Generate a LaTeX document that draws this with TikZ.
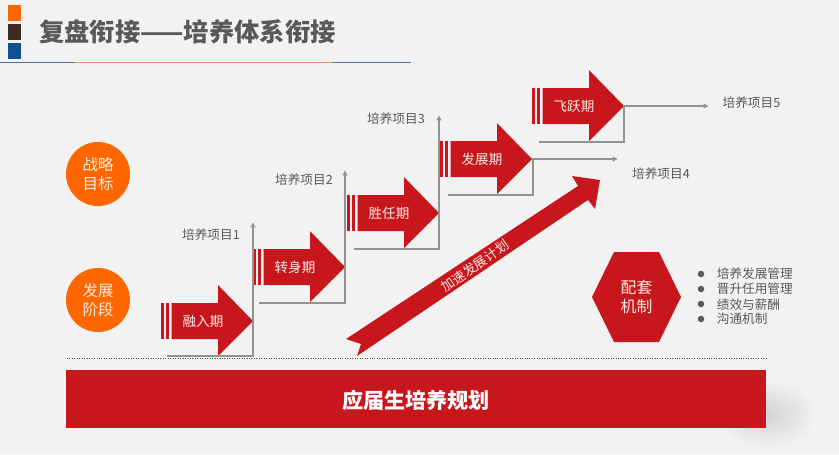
\documentclass[tikz,border=0pt]{standalone}
\usepackage{fontspec}
\setmainfont{Noto Sans CJK SC}
\usetikzlibrary{shapes.geometric,arrows.meta}
\definecolor{stagered}{HTML}{C8161D}
\definecolor{roundorange}{HTML}{FF6600}
\definecolor{greytext}{HTML}{595959}
\definecolor{pagegrey}{HTML}{F2F2F2}
\definecolor{creamtext}{HTML}{FFEDE4}
\definecolor{darkblock}{HTML}{3F2A2A}
\definecolor{blueblock}{HTML}{10528F}
\definecolor{ruleblue}{HTML}{4A6FA5}
\definecolor{ruleorange}{HTML}{F0905A}
\tikzset{
  stagefill/.style={fill=stagered},
  stagetext/.style={text=creamtext, font=\fontsize{7.7pt}{9pt}\selectfont, inner sep=0pt},
  itemtext/.style={text=greytext, font=\fontsize{7.2pt}{9pt}\selectfont, inner sep=0pt},
  roundbox/.style={circle, fill=roundorange, minimum size=1.28cm, inner sep=0pt, text=creamtext, align=center, font=\fontsize{8.8pt}{11.2pt}\selectfont},
  stepline/.style={draw=gray!85, line width=0.6pt, -{Latex[length=3pt,width=3.2pt]}},
  blt/.style={circle, fill=greytext, minimum size=0.13cm, inner sep=0pt},
}
% one stage: name, tip x, tip y, text
\newcommand{\stagearrow}[4]{
  \fill[stagefill] (#2-92,#3-18) rectangle (#2-88.7,#3+18);
  \fill[stagefill] (#2-87.3,#3-18) rectangle (#2-83.7,#3+18);
  \fill[stagefill] (#2-81.3,#3-18) -- (#2-35,#3-18) -- (#2-35,#3-36) -- (#2,#3) -- (#2-35,#3+35) -- (#2-35,#3+18) -- (#2-81.3,#3+18) -- cycle;
  \node[stagetext] (#1) at (#2-50,#3) {#4};
}
\begin{document}
\begin{tikzpicture}[x=0.02cm,y=-0.02cm]
  \useasboundingbox (0,0) rectangle (839,454);
  \fill[pagegrey] (0,0) rectangle (839,454);

  % title
  \fill[roundorange] (8,5) rectangle (21,21);
  \fill[darkblock] (8,23.5) rectangle (21,40);
  \fill[blueblock] (8,43) rectangle (21,59);
  \node[text=greytext, font=\fontsize{14.4pt}{16pt}\bfseries\selectfont, inner sep=0pt, anchor=west] (title) at (39,32) {复盘衔接——培养体系衔接};
  \coordinate (ruleA) at (0,62);
  \coordinate (ruleB) at (74,62);
  \coordinate (ruleC) at (332,62);
  \coordinate (ruleD) at (411,62);
  \draw[ruleblue, line width=0.5pt] (ruleA) -- (ruleB);
  \draw[ruleorange, line width=0.5pt] (ruleB) -- (ruleC);
  \draw[ruleblue, line width=0.5pt] (ruleC) -- (ruleD);

  % left
  \node[roundbox] (goal) at (98,174) {战略\\目标};
  \node[roundbox] (phase) at (98,300) {发展\\阶段};

  % stages
  \stagearrow{rong}{253}{321}{融入期}
  \stagearrow{zhuan}{345}{267}{转身期}
  \stagearrow{sheng}{439}{213}{胜任期}
  \stagearrow{fa}{532}{159}{发展期}
  \stagearrow{fei}{624}{106}{飞跃期}

  % steps
  \coordinate (s1) at (167,356);
  \coordinate (e1) at (253,222);
  \coordinate (s2) at (259,303);
  \coordinate (e2) at (345,170);
  \coordinate (s3) at (354,249);
  \coordinate (e3) at (439,115);
  \coordinate (s4) at (448,195);
  \coordinate (e4) at (618,159);
  \coordinate (s5) at (539,142);
  \coordinate (e5) at (709,106);
  \draw[stepline] (s1) -| (e1);
  \draw[stepline] (s2) -| (e2);
  \draw[stepline] (s3) -| (e3);
  \draw[stepline] (s4) -- (533,195) |- (e4);
  \draw[stepline] (s5) -- (624,142) |- (e5);

  \node[itemtext] (p1) at (211,235) {培养项目1};
  \node[itemtext] (p2) at (304,180) {培养项目2};
  \node[itemtext] (p3) at (396,119) {培养项目3};
  \node[itemtext] (p4) at (661,174) {培养项目4};
  \node[itemtext] (p5) at (751.5,103) {培养项目5};

  % long arrow
  \fill[stagefill] (346,339) -- (578,186) -- (572,176) -- (600,180) -- (595,209) -- (588,200) -- (357,356) -- (361,344) -- cycle;
  \node[stagetext, font=\fontsize{7.5pt}{9pt}\selectfont, rotate=35] (plan) at (475,266) {加速发展计划};

  % hexagon
  \fill[stagefill] (592,297) -- (614,252) -- (659,252) -- (681,297) -- (659,342) -- (614,342) -- cycle;
  \node[text=creamtext, inner sep=0pt, align=center, font=\fontsize{9pt}{11pt}\selectfont] (hex) at (636.5,297) {配套\\机制};

  \node[blt] (b1) at (701,274) {};
  \node[blt] (b2) at (701,289) {};
  \node[blt] (b3) at (701,304) {};
  \node[blt] (b4) at (701,319) {};
  \node[itemtext, anchor=west] (t1) at (716.5,274) {培养发展管理};
  \node[itemtext, anchor=west] (t2) at (716.5,289) {晋升任用管理};
  \node[itemtext, anchor=west] (t3) at (716.5,304.5) {绩效与薪酬};
  \node[itemtext, anchor=west] (t4) at (716.5,319) {沟通机制};

  % bottom
  \coordinate (dashA) at (67,358);
  \coordinate (dashB) at (766,358);
  \draw[densely dotted, gray!60!black, line width=0.4pt] (dashA) -- (dashB);
  \shade[inner color=black!13!pagegrey, outer color=pagegrey] (766,414) ellipse (52 and 34);
  \fill[stagefill] (66,369.5) rectangle (766,428);
  \node[text=white, font=\fontsize{12pt}{14pt}\bfseries\selectfont, inner sep=0pt] (band) at (416,400) {应届生培养规划};
\end{tikzpicture}
\end{document}
